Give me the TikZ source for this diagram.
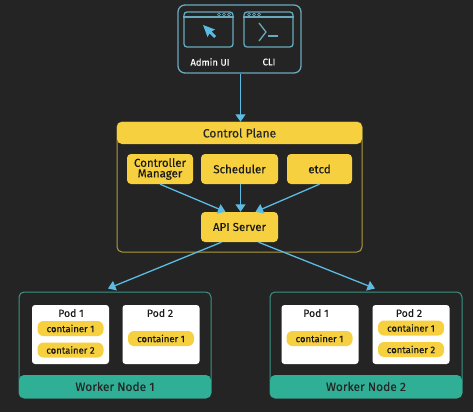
\documentclass[tikz,border=0pt]{standalone}
\usepackage{fontspec}
\setmainfont[FakeBold=0.2]{Fira Sans}
\usetikzlibrary{arrows.meta}
\usetikzlibrary{calc}
\definecolor{bgdark}{HTML}{242424}
\definecolor{planeyellow}{HTML}{F6D03F}
\definecolor{planeline}{HTML}{B09A3C}
\definecolor{nodegreen}{HTML}{2FB096}
\definecolor{nodeline}{HTML}{3C9384}
\definecolor{linkblue}{HTML}{5CBBE2}
\definecolor{iconline}{HTML}{68A9BC}
\tikzset{
client/.style={
	rectangle,
	rounded corners=7pt,
	draw=iconline,
	line width=1.3pt,
	inner sep=0pt
},
window/.style={
	rectangle,
	rounded corners=3pt,
	minimum width=49pt,
	minimum height=35pt,
	draw=iconline,
	line width=1.3pt,
	inner sep=0pt
},
frame/.style={
	rectangle,
	rounded corners=5pt,
	line width=1pt,
	inner sep=0pt
},
band/.style={
	rectangle,
	rounded corners=5pt,
	inner sep=0pt,
	text=black!85,
	font=\fontsize{12}{12}\selectfont
},
part/.style={
	rectangle,
	rounded corners=4pt,
	minimum height=30pt,
	fill=planeyellow,
	inner sep=0pt,
	align=center,
	text=black!90,
	font=\fontsize{11.5}{11.5}\selectfont
},
pod/.style={
	rectangle,
	rounded corners=3pt,
	minimum width=77pt,
	minimum height=59pt,
	fill=white,
	inner sep=0pt
},
container/.style={
	rectangle,
	rounded corners=6pt,
	minimum width=66pt,
	minimum height=15pt,
	fill=planeyellow,
	inner sep=0pt,
	text=black!90,
	font=\fontsize{9.5}{9.5}\selectfont
},
podtitle/.style={
	inner sep=0pt,
	text=black!90,
	font=\fontsize{10.5}{10.5}\selectfont
},
link/.style={
	-{Triangle[length=7.5pt,width=10pt]},
	draw=linkblue,
	line width=1.3pt
}
}

\begin{document}
\begin{tikzpicture}[x=1pt, y=-1pt]
\useasboundingbox (0,0) rectangle (473,412);
\fill[bgdark] (0,0) rectangle (473,412);
% ===== Clients (top) =====
\node (clients) [client, minimum width=123pt, minimum height=68pt] at (239.5, 39) {};
\node (adminwin) [window] at (208.5, 29.5) {};
\node (cliwin)   [window] at (268.5, 29.5) {};
\node (adminlbl) [text=white, font=\fontsize{9.5}{9.5}\selectfont] at (210, 62) {Admin UI};
\node (clilbl)   [text=white, font=\fontsize{9.5}{9.5}\selectfont] at (269, 62) {CLI};
\draw [iconline, line width=1.3pt] (adminwin.west |- 0,17) -- (adminwin.east |- 0,17);
\draw [iconline, line width=1.3pt] (cliwin.west |- 0,17) -- (cliwin.east |- 0,17);
\foreach \x in {219, 224, 229, 249, 254, 259}
	\draw [iconline, line width=0.7pt] (\x,14.5) circle (1.5pt);
% cursor and prompt
\fill [linkblue] (203,25) -- (215,29.5) -- (211.5,31.5) -- (216,36) -- (214,38) -- (209.5,33.5) -- (207.5,37) -- cycle;
\draw [iconline, line width=1.3pt] (259,23) -- (266,32) -- (259,41);
\draw [iconline, line width=1.3pt] (268,36) -- (278,36);

% ===== Control plane =====
\node (plane) [frame, draw=planeline, minimum width=245pt, minimum height=130pt] at (239.5, 187) {};
\node (planehead) [band, fill=planeyellow, minimum width=245pt, minimum height=22pt] at (239.5, 133) {Control Plane};
\node (ctrl)  [part, minimum width=66pt] at (160, 169)   {Controller\\[-1pt]Manager};
\node (sched) [part, minimum width=77pt] at (239.5, 169) {Scheduler};
\node (etcd)  [part, minimum width=65pt] at (319.5, 169) {etcd};
\node (api)   [part, minimum width=77pt] at (239.5, 227) {API Server};
\coordinate (apileft)  at ($(api.north)+(-14,0)$);
\coordinate (apitop)   at ($(api.north)+(1,0)$);
\coordinate (apiright) at ($(api.north)+(16,0)$);
\coordinate (apiwest)  at ($(api.south)+(-18,0)$);
\coordinate (apieast)  at ($(api.south)+(19,0)$);

% ===== Worker nodes =====
\node (work1) [frame, draw=nodeline, minimum width=192pt, minimum height=106pt] at (115, 345) {};
\node (work2) [frame, draw=nodeline, minimum width=192pt, minimum height=106pt] at (366, 345) {};
\node (band1) [band, fill=nodegreen, minimum width=192pt, minimum height=23pt] at (115, 386.5) {Worker Node 1};
\node (band2) [band, fill=nodegreen, minimum width=192pt, minimum height=23pt] at (366, 386.5) {Worker Node 2};
\coordinate (work1in) at ($(work1.north)+(-7,-3)$);
\coordinate (work2in) at ($(work2.north)+(9,-3)$);
% worker 1
\node (pod11) [pod] at (70.5, 334.5) {};
\node (pod12) [pod] at (161, 334.5) {};
\node (pod11lbl) [podtitle] at (71, 313) {Pod 1};
\node (pod12lbl) [podtitle] at (160, 313) {Pod 2};
\node (c111) [container] at (70.5, 328.5) {container 1};
\node (c112) [container] at (70.5, 350)   {container 2};
\node (c121) [container] at (161, 338.5)  {container 1};
% worker 2
\node (pod21) [pod] at (320, 334.5) {};
\node (pod22) [pod] at (411, 334.5) {};
\node (pod21lbl) [podtitle] at (316, 313) {Pod 1};
\node (pod22lbl) [podtitle] at (409, 313) {Pod 2};
\node (c211) [container] at (319.5, 338.5) {container 1};
\node (c221) [container] at (411, 328)     {container 1};
\node (c222) [container] at (411, 349.5)   {container 2};

% ===== Arrows =====
\draw [link] (clients.south -| apitop) -- (planehead.north -| apitop);
\draw [link] (ctrl.south)  -- (apileft);
\draw [link] (sched.south -| apitop) -- (apitop);
\draw [link] (etcd.south)  -- (apiright);
\draw [link] (apiwest) -- (work1in);
\draw [link] (apieast) -- (work2in);

\end{tikzpicture}
\end{document}
